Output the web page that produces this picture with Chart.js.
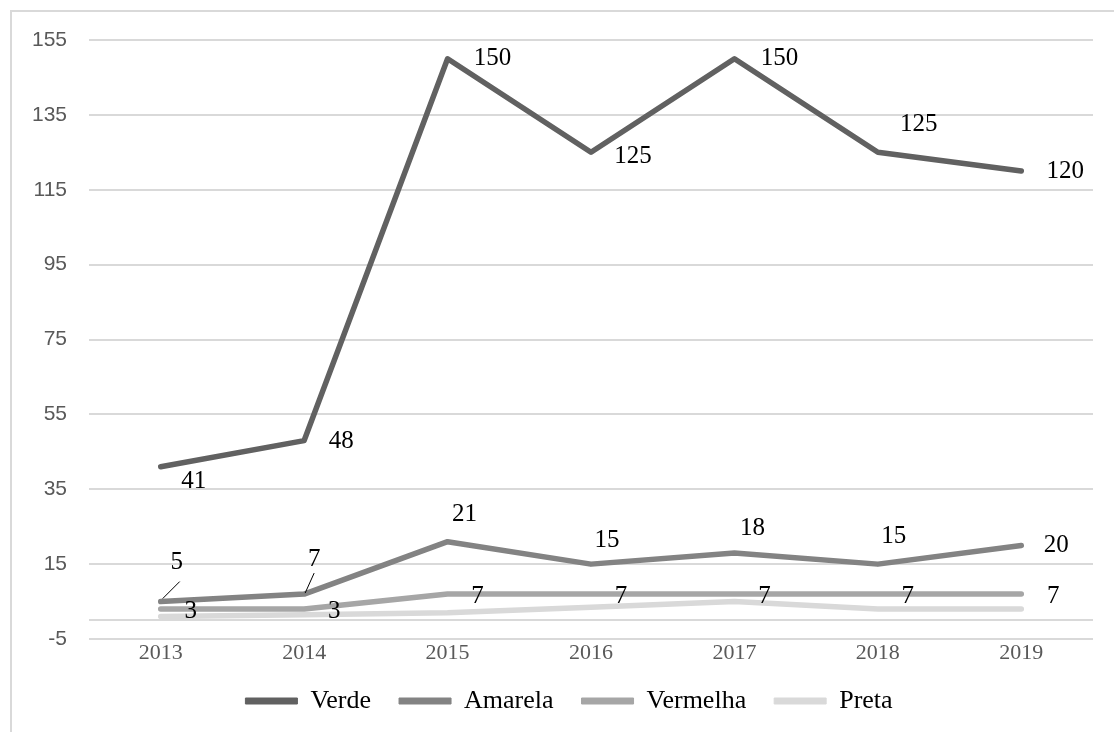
<!DOCTYPE html>
<html>
<head>
<meta charset="utf-8">
<script src="https://cdn.jsdelivr.net/npm/chart.js@4"></script>
<style>
  html, body { margin: 0; padding: 0; background: #fff; overflow: hidden; }
  #frame {
    position: absolute; left: 10px; top: 10px; width: 1300px; height: 900px;
    border-left: 2px solid #d9d9d9; border-top: 2px solid #d9d9d9;
  }
  #wrap { position: absolute; left: 0; top: 0; width: 1114px; height: 732px; }
</style>
</head>
<body>
<div id="frame"></div>
<div id="wrap"><canvas id="chart" width="1114" height="732"></canvas></div>
<script>
const years = ["2013", "2014", "2015", "2016", "2017", "2018", "2019"];
const verde = [41, 48, 150, 125, 150, 125, 120];
const amarela = [5, 7, 21, 15, 18, 15, 20];
const vermelha = [3, 3, 7, 7, 7, 7, 7];
const preta = [1, 1.5, 2, 3.5, 5, 3, 3];
const yTicks = { min: -5, max: 155, step: 20 };

// label placement (pixels from the point)
const verdeOffsets = [[33, 15], [37, 1], [45, 0], [42, 4], [45, 0], [41, -28], [44, 0]];
const amarelaOffsets = [[16, -39], [10, -35], [17, -27], [16, -24], [18, -24], [16, -28], [35, 0]];
const vermelhaOffsets = [[30, 2], [30, 2], [30, 2], [30, 2], [30, 2], [30, 2], [32, 2]];
const leaderLines = { 0: [[19, -20], [2, -3]], 1: [[10, -21], [1, -1]] };

const serif = "'Liberation Serif', 'Times New Roman', serif";
const sans = "'Liberation Sans', Arial, sans-serif";

// line at value 0 (the category axis crossing)
const zeroAxis = {
  id: "zeroAxis",
  beforeDatasetsDraw(chart) {
    const { ctx, chartArea: { left, right }, scales: { y } } = chart;
    const py = Math.round(y.getPixelForValue(0));
    ctx.save();
    ctx.strokeStyle = "#d9d9d9";
    ctx.lineWidth = 2;
    ctx.beginPath();
    ctx.moveTo(left, py);
    ctx.lineTo(right, py);
    ctx.stroke();
    ctx.restore();
  },
};

// value labels
const valueLabels = {
  id: "valueLabels",
  afterDatasetsDraw(chart) {
    const { ctx, data } = chart;
    const offsets = [verdeOffsets, amarelaOffsets, vermelhaOffsets];
    ctx.save();
    ctx.font = "25px " + serif;
    ctx.fillStyle = "#000";
    ctx.textAlign = "center";
    ctx.textBaseline = "middle";
    offsets.forEach((offs, di) => {
      const meta = chart.getDatasetMeta(di);
      data.datasets[di].data.forEach((v, i) => {
        const pt = meta.data[i];
        ctx.fillText(String(v), pt.x + offs[i][0], pt.y + offs[i][1]);
      });
    });
    // leader lines for the first Amarela labels
    const meta = chart.getDatasetMeta(1);
    ctx.strokeStyle = "#000";
    ctx.lineWidth = 1;
    Object.keys(leaderLines).forEach((k) => {
      const pt = meta.data[k];
      const [a, b] = leaderLines[k];
      ctx.beginPath();
      ctx.moveTo(pt.x + a[0], pt.y + a[1]);
      ctx.lineTo(pt.x + b[0], pt.y + b[1]);
      ctx.stroke();
    });
    ctx.restore();
  },
};

const line = (label, values, color) => ({
  label: label,
  data: values,
  borderColor: color,
  backgroundColor: color,
  borderWidth: 5.5,
  borderCapStyle: "round",
  borderJoinStyle: "round",
  pointRadius: 0,
  tension: 0,
});

new Chart(document.getElementById("chart"), {
  type: "line",
  data: {
    labels: years,
    datasets: [
      line("Verde", verde, "#616161"),
      line("Amarela", amarela, "#838383"),
      line("Vermelha", vermelha, "#a6a6a6"),
      line("Preta", preta, "#d9d9d9"),
    ],
  },
  options: {
    responsive: false,
    animation: false,
    layout: { padding: { top: 40, right: 21, left: 45, bottom: 8 } },
    plugins: {
      tooltip: { enabled: false },
      legend: {
        position: "bottom",
        labels: {
          font: { family: serif, size: 26 },
          color: "#595959",
          boxWidth: 52,
          boxHeight: 6,
          padding: 28,
          useBorderRadius: true,
          borderRadius: 3,
          generateLabels(chart) {
            return chart.data.datasets.map((ds, i) => ({
              text: ds.label,
              fillStyle: ds.borderColor,
              strokeStyle: ds.borderColor,
              lineWidth: 1,
              datasetIndex: i,
              hidden: false,
            }));
          },
        },
      },
    },
    scales: {
      x: {
        offset: true,
        grid: { display: false, drawTicks: false },
        border: { display: false },
        ticks: { font: { family: serif, size: 22 }, color: "#595959", padding: 1, maxRotation: 0 },
        afterFit(s) { s.height = 21; },
      },
      y: {
        min: yTicks.min,
        max: yTicks.max,
        grid: { color: "#d9d9d9", lineWidth: 2, drawTicks: false },
        border: { display: false },
        ticks: { stepSize: yTicks.step, font: { family: sans, size: 21 }, color: "#595959", padding: 22 },
        afterFit(s) {
          s.width = 44;
          s._computeLabelArea = () => undefined; // let labels overflow to the left
        },
      },
    },
  },
  plugins: [zeroAxis, valueLabels],
});
</script>
</body>
</html>
